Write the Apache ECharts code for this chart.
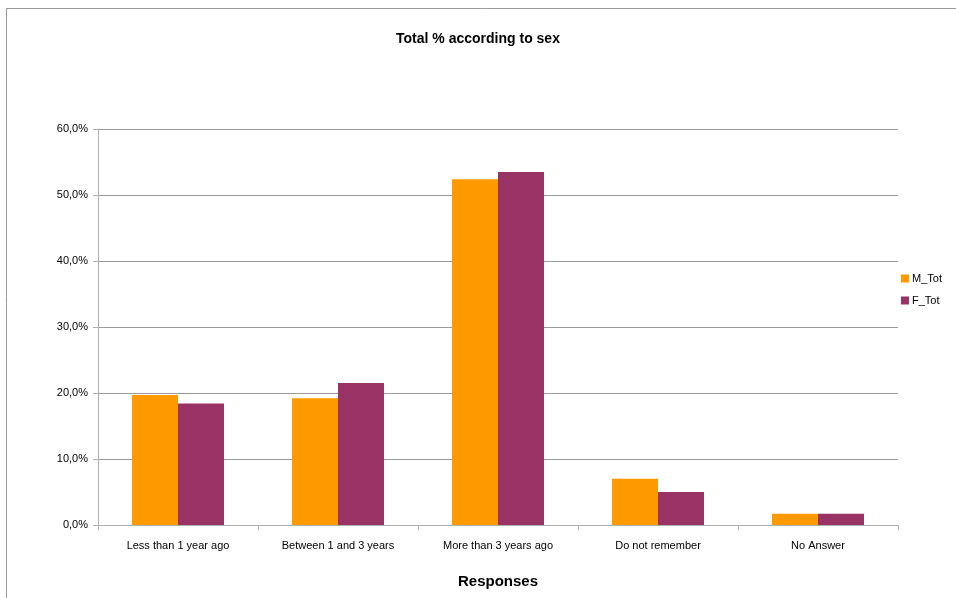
<!DOCTYPE html>
<html>
<head>
<meta charset="utf-8">
<script src="https://cdn.jsdelivr.net/npm/echarts@6/dist/echarts.min.js"></script>
<style>html,body{margin:0;padding:0;background:#fff}#c{width:956px;height:598px}</style>
</head>
<body>
<div id="c"></div>
<script>
var categories = ['Less than 1 year ago', 'Between 1 and 3 years', 'More than 3 years ago', 'Do not remember', 'No Answer'];
var mTot = [19.7, 19.2, 52.4, 7.0, 1.7];
var fTot = [18.4, 21.5, 53.5, 5.0, 1.7];
var seriesNames = ['M_Tot', 'F_Tot'];

var FONT = '"Liberation Sans", Arial, sans-serif';
var chart = echarts.init(document.getElementById('c'), null, {renderer: 'canvas'});
chart.setOption({
  animation: false,
  backgroundColor: '#fff',
  graphic: [{
    type: 'rect', x: 0, y: 0,
    shape: {x: 6.5, y: 8.5, width: 960, height: 600},
    style: {fill: 'none', stroke: '#9a9a9a', lineWidth: 1},
    silent: true
  }],
  title: {
    text: 'Total % according to sex',
    left: 'center', top: 27,
    textStyle: {fontFamily: FONT, fontSize: 14, fontWeight: 'bold', color: '#000'}
  },
  legend: {
    orient: 'vertical', left: 896, top: 268,
    itemWidth: 8, itemHeight: 8, itemGap: 11,
    icon: 'rect',
    textStyle: {fontFamily: FONT, fontSize: 11, color: '#000', padding: [0, 0, 0, -2]},
    data: seriesNames
  },
  grid: {left: 98, right: 58, top: 129, bottom: 73, containLabel: false},
  xAxis: {
    type: 'category', data: categories,
    name: 'Responses', nameLocation: 'middle', nameGap: 49,
    nameTextStyle: {fontFamily: FONT, fontSize: 15, fontWeight: 'bold', color: '#000'},
    axisLine: {lineStyle: {color: '#b0b0b0', width: 1}},
    axisTick: {show: true, length: 5, lineStyle: {color: '#b0b0b0'}},
    axisLabel: {fontFamily: FONT, fontSize: 11, color: '#000', margin: 15}
  },
  yAxis: {
    type: 'value', min: 0, max: 60, interval: 10,
    axisLine: {show: true, lineStyle: {color: '#b0b0b0', width: 1}},
    axisTick: {show: true, length: 5, lineStyle: {color: '#b0b0b0'}},
    axisLabel: {
      fontFamily: FONT, fontSize: 11, color: '#000', margin: 10,
      formatter: function (v) { return v.toFixed(1).replace('.', ',') + '%'; }
    },
    splitLine: {lineStyle: {color: '#9a9a9a', width: 1}}
  },
  series: [
    {name: seriesNames[0], type: 'bar', data: mTot, barGap: '0%', barCategoryGap: '42.5%', itemStyle: {color: '#FF9900'}},
    {name: seriesNames[1], type: 'bar', data: fTot, barGap: '0%', barCategoryGap: '42.5%', itemStyle: {color: '#993366'}}
  ]
});
</script>
</body>
</html>
